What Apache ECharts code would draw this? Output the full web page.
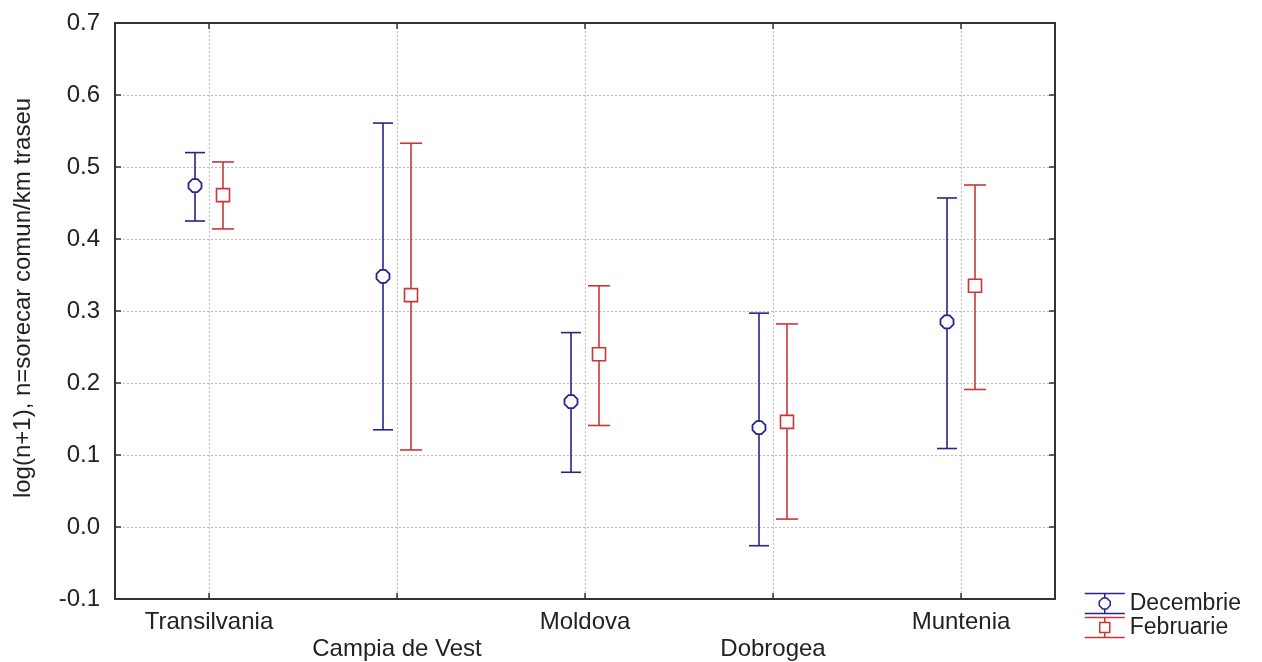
<!DOCTYPE html>
<html>
<head>
<meta charset="utf-8">
<script src="https://cdn.jsdelivr.net/npm/echarts@6/dist/echarts.min.js"></script>
<style>html,body{margin:0;padding:0;background:#fff;}#c{width:1262px;height:662px;}</style>
</head>
<body>
<div id="c"></div>
<script>
const categories = ['Transilvania', 'Campia de Vest', 'Moldova', 'Dobrogea', 'Muntenia'];
const decMean = [0.474, 0.348, 0.174, 0.138, 0.285];
const decLow  = [0.425, 0.135, 0.076, -0.026, 0.109];
const decHigh = [0.520, 0.561, 0.270, 0.297, 0.457];
const febMean = [0.461, 0.322, 0.240, 0.146, 0.335];
const febLow  = [0.414, 0.107, 0.141, 0.011, 0.191];
const febHigh = [0.507, 0.533, 0.335, 0.282, 0.475];
const yTicks = [-0.1, 0.0, 0.1, 0.2, 0.3, 0.4, 0.5, 0.6, 0.7];
const yTitle = 'log(n+1), n=sorecar comun/km traseu';
const seriesNames = ['Decembrie', 'Februarie'];

const BLUE = '#25258c';
const RED = '#cc3535';
const FONT = '"Liberation Sans", Arial, sans-serif';

function rows(lo, hi, mean) {
  return categories.map((c, i) => [i, lo[i], hi[i], mean[i]]);
}

function makeRender(offset, color, capHalf, shape) {
  return function (params, api) {
    const i = api.value(0);
    const pLo = api.coord([i, api.value(1)]);
    const pHi = api.coord([i, api.value(2)]);
    const pM = api.coord([i, api.value(3)]);
    const x = pLo[0] + offset;
    const st = { stroke: color, lineWidth: 1.6, fill: null };
    const children = [
      { type: 'line', shape: { x1: x, y1: pHi[1], x2: x, y2: pLo[1] }, style: st },
      { type: 'line', shape: { x1: x - capHalf, y1: pHi[1], x2: x + capHalf, y2: pHi[1] }, style: st },
      { type: 'line', shape: { x1: x - capHalf, y1: pLo[1], x2: x + capHalf, y2: pLo[1] }, style: st }
    ];
    const y = pM[1];
    if (shape === 'diamond') {
      const r = 6.5, c = 2.5;
      children.push({
        type: 'polygon',
        shape: { points: [[x - c, y - r], [x + c, y - r], [x + r, y - c], [x + r, y + c], [x + c, y + r], [x - c, y + r], [x - r, y + c], [x - r, y - c]] },
        style: { stroke: color, lineWidth: 1.8, fill: '#fff' }
      });
    } else {
      children.push({
        type: 'rect',
        shape: { x: x - 6.5, y: y - 6.5, width: 13, height: 13 },
        style: { stroke: color, lineWidth: 1.6, fill: '#fff' }
      });
    }
    return { type: 'group', children: children };
  };
}

const iconDec = 'path://M0 1 L40 1 M0 21 L40 21 M20 1 L20 5.5 M20 16.5 L20 21 M18 5.5 L22 5.5 L25.5 9 L25.5 13 L22 16.5 L18 16.5 L14.5 13 L14.5 9 Z';
const iconFeb = 'path://M0 1 L40 1 M0 21 L40 21 M20 1 L20 6 M20 16 L20 21 M15 6 L25 6 L25 16 L15 16 Z';

const chart = echarts.init(document.getElementById('c'));
const gridLine = { show: true, lineStyle: { color: '#bdbdbd', type: [2, 2], width: 1 } };
const boxLine = { show: true, onZero: false, lineStyle: { color: '#333', width: 2 } };
const boxTick = { show: true, inside: true, length: 6, lineStyle: { color: '#333', width: 1.5 } };
chart.setOption({
  backgroundColor: '#fff',
  animation: false,
  grid: { left: 115, top: 23, right: 207, bottom: 63, containLabel: false, outerBoundsMode: 'none' },
  legend: {
    left: 1079, top: 587, orient: 'vertical', itemGap: 1,
    itemWidth: 40, itemHeight: 23,
    textStyle: { fontFamily: FONT, fontSize: 23, color: '#222' },
    data: [
      { name: seriesNames[0], icon: iconDec, itemStyle: { color: 'transparent', borderColor: BLUE, borderWidth: 1.5 } },
      { name: seriesNames[1], icon: iconFeb, itemStyle: { color: 'transparent', borderColor: RED, borderWidth: 1.5 } }
    ]
  },
  xAxis: [{
    type: 'category', data: categories, boundaryGap: true, position: 'bottom',
    axisLine: boxLine,
    axisTick: Object.assign({ alignWithLabel: true }, boxTick),
    splitLine: Object.assign({ alignWithLabel: true }, gridLine),
    axisLabel: {
      interval: 0, margin: 10, fontFamily: FONT, fontSize: 24, color: '#222', lineHeight: 27,
      formatter: (v, i) => (i % 2 ? '\n' + v : v)
    }
  }, {
    type: 'category', data: categories, boundaryGap: true, position: 'top',
    axisLine: boxLine,
    axisTick: Object.assign({ alignWithLabel: true }, boxTick),
    axisLabel: { show: false }, splitLine: { show: false }
  }],
  yAxis: [{
    type: 'value', min: -0.1, max: 0.7, interval: 0.1, position: 'left',
    name: yTitle, nameLocation: 'middle', nameGap: 80, nameRotate: 90,
    nameTextStyle: { fontFamily: FONT, fontSize: 24, color: '#222', padding: [0, 0, 0, 26] },
    axisLine: boxLine,
    axisTick: boxTick,
    splitLine: gridLine,
    axisLabel: { margin: 15, fontFamily: FONT, fontSize: 24, color: '#222', formatter: v => (Math.round(v * 10) / 10).toFixed(1) }
  }, {
    type: 'value', min: -0.1, max: 0.7, interval: 0.1, position: 'right',
    axisLine: boxLine,
    axisTick: boxTick,
    splitLine: { show: false }, axisLabel: { show: false }
  }],
  series: [{
    name: seriesNames[0], type: 'custom', xAxisIndex: 0, yAxisIndex: 0,
    renderItem: makeRender(-14, BLUE, 10, 'diamond'),
    encode: { x: 0, y: [1, 2, 3] },
    itemStyle: { color: BLUE },
    data: rows(decLow, decHigh, decMean), z: 5
  }, {
    name: seriesNames[1], type: 'custom', xAxisIndex: 0, yAxisIndex: 0,
    renderItem: makeRender(14, RED, 11, 'square'),
    encode: { x: 0, y: [1, 2, 3] },
    itemStyle: { color: RED },
    data: rows(febLow, febHigh, febMean), z: 5
  }]
});
</script>
</body>
</html>
